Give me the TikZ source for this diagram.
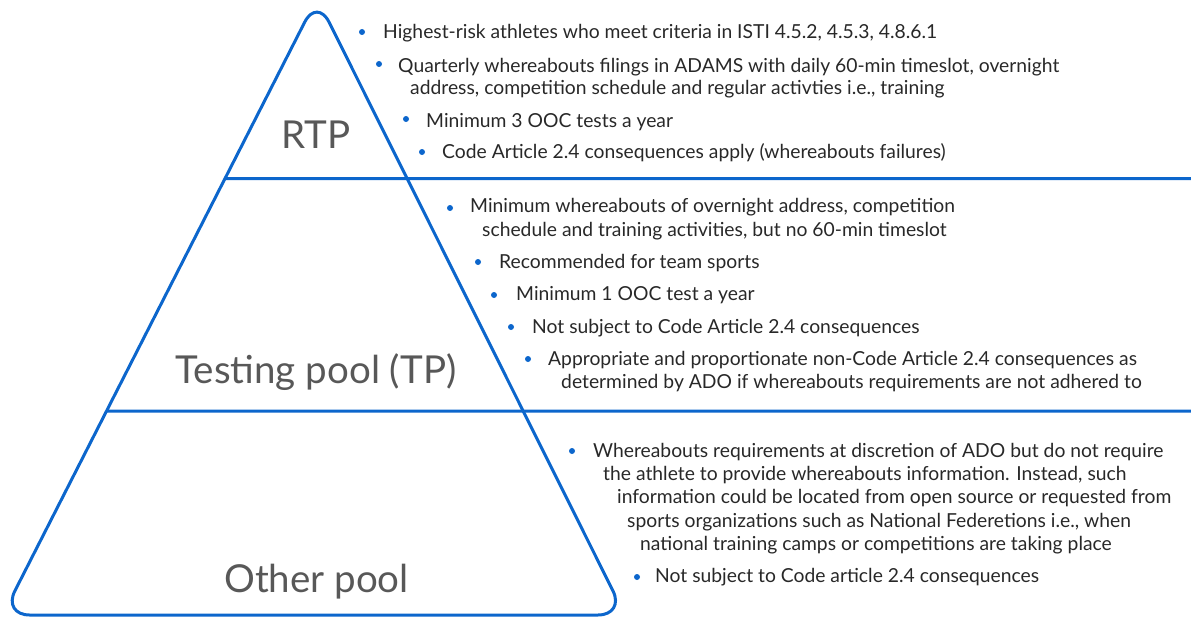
\documentclass[tikz,border=0pt]{standalone}
\usepackage{fontspec}
\setmainfont{Lato}
\definecolor{poolblue}{RGB}{12,102,204}
\definecolor{txtgray}{RGB}{40,40,40}
\definecolor{lblgray}{RGB}{88,88,88}
\begin{document}
\begin{tikzpicture}[x=1pt,y=-1pt,
  line/.style={poolblue,line width=3pt},
  item/.style={anchor=base west,inner sep=0pt,text=txtgray,font=\fontsize{19.3}{21}\selectfont},
  pool/.style={anchor=base,inner sep=0pt,text=lblgray,font=\fontsize{38.5}{40}\selectfont},
  dot/.style={fill=poolblue}]
\useasboundingbox (0,0) rectangle (1191,618);


\begin{scope}
\coordinate (top) at (317,-2);
\coordinate (bl) at (2.6,615);
\coordinate (br) at (625,615);
\coordinate (u1) at (0,178.5);
\coordinate (u2) at (1191,178.5);
\coordinate (w1) at (0,411);
\coordinate (w2) at (1191,411);
\coordinate (ul) at (intersection of top--bl and u1--u2);
\coordinate (wl) at (intersection of top--bl and w1--w2);

\draw[line, rounded corners=27pt] (bl) -- (top) -- (br) -- cycle;
\draw[line] (ul) -- (u2);
\draw[line] (wl) -- (w2);

\node (rtp) [pool] at (316,148) {RTP};
\node (tp) [pool] at (316,383) {Testing pool (TP)};
\node (other) [pool] at (316.5,592) {Other pool};
\end{scope}


% bullets
\foreach \bx/\by in {362/32, 379/64, 406/119, 422/152,
  450/208, 478/262, 494/295, 511/327, 528/359,
  572/451, 637/577}
  \fill[dot] (\bx,\by) circle (3);

% RTP
\node (r1) [item] at (383,39) {Highest-risk athletes who meet criteria in ISTI 4.5.2, 4.5.3, 4.8.6.1};
\node (r2) [item] at (398,72) {Quarterly whereabouts filings in ADAMS with daily 60-min timeslot, overnight};
\node (r2b) [item] at (410,94) {address, competition schedule and regular activties i.e., training};
\node (r3) [item] at (426,127) {Minimum 3 OOC tests a year};
\node (r4) [item] at (442,158) {Code Article 2.4 consequences apply (whereabouts failures)};

% TP
\node (t1) [item] at (470,212) {Minimum whereabouts of overnight address, competition};
\node (t1b) [item] at (482,236) {schedule and training activities, but no 60-min timeslot};
\node (t2) [item] at (499,268) {Recommended for team sports};
\node (t3) [item] at (516,300) {Minimum 1 OOC test a year};
\node (t4) [item] at (532,333) {Not subject to Code Article 2.4 consequences};
\node (t5) [item] at (548,365) {Appropriate and proportionate non-Code Article 2.4 consequences as};
\node (t5b) [item] at (561,388) {determined by ADO if whereabouts requirements are not adhered to};

% other pool
\node (o1) [item] at (593,457) {Whereabouts requirements at discretion of ADO but do not require};
\node (o1b) [item] at (603,480) {the athlete to provide whereabouts information. Instead, such};
\node (o1c) [item] at (617,503) {information could be located from open source or requested from};
\node (o1d) [item] at (627,527) {sports organizations such as National Federetions i.e., when};
\node (o1e) [item] at (640,550) {national training camps or competitions are taking place};
\node (o2) [item] at (655,582) {Not subject to Code article 2.4 consequences};

\end{tikzpicture}
\end{document}
